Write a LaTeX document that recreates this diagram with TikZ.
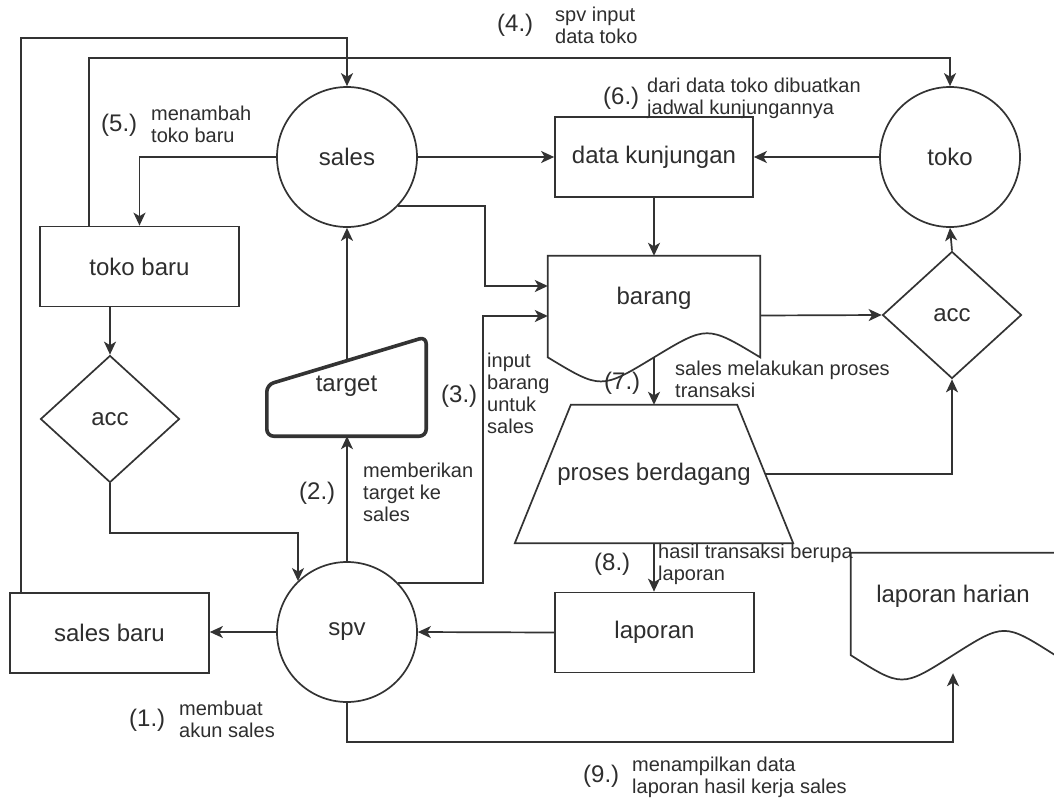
\documentclass[tikz,border=0pt]{standalone}
\usepackage{fontspec}
\setmainfont{Liberation Sans}
\usetikzlibrary{arrows.meta,calc,shapes.geometric}

\definecolor{ink}{HTML}{333333}
\definecolor{txt}{HTML}{2E2E2E}

% document symbol: flat top, wavy bottom (#2 = wave height)
\newcommand\docoutline[2]{%
  \draw[shapeline] (#1.north west) -- (#1.north east)
    -- ($(#1.south east)+(0,-0.5*#2)$)
    .. controls ($(#1.south east)!0.25!(#1.south west)+(0,-1.4*#2)$)
    .. ($(#1.south)+(0,-0.5*#2)$)
    .. controls ($(#1.south east)!0.75!(#1.south west)+(0,0.4*#2)$)
    .. ($(#1.south west)+(0,-0.5*#2)$) -- cycle;}

\begin{document}
\begin{tikzpicture}[x=1pt,y=-1pt,
  every node/.style={text=txt,font=\fontsize{24}{28}\selectfont},
  shapeline/.style={draw=ink,line width=1.7pt},
  procbox/.style={shapeline,fill=white,rectangle,inner sep=0pt,minimum width=199,minimum height=80},
  storecirc/.style={shapeline,fill=white,circle,inner sep=0pt,minimum size=140},
  decision/.style={shapeline,fill=white,diamond,inner sep=0pt,minimum width=139,minimum height=127},
  frame/.style={rectangle,inner sep=0pt},
  arr/.style={draw=ink,line width=1.7pt,-{Stealth[length=13pt,width=12pt,inset=3.5pt]}},
  num/.style={anchor=west,inner sep=0pt,font=\fontsize{24}{28}\selectfont},
  note/.style={anchor=west,inner sep=0pt,align=left,font=\fontsize{20}{22}\selectfont},
]
\useasboundingbox[fill=white] (0,0) rectangle (1054,800);

% ---- main symbols ----
\node[storecirc] (sales) at (347,157) {sales};
\node[storecirc] (toko) at (950,157) {toko};
\node[storecirc] (spv) at (347,632) {spv};

\node[procbox,minimum width=198] (datak) at (654,157) {data kunjungan};
\node[procbox] (tokobaru) at (139.5,266.5) {toko baru};
\node[procbox] (salesbaru) at (109.5,633) {sales baru};
\node[procbox] (laporan) at (654.5,632.5) {laporan};

\node[decision] (accL) at (110,419) {acc};
\node[decision] (accR) at (952,315) {acc};

% documents
\node[frame,minimum width=212,minimum height=119] (barang) at (654,315.5)
  {\raisebox{17.5pt}[\height][\depth]{barang}};
\docoutline{barang}{35.7}
\node[frame,minimum width=204,minimum height=120] (lapharian) at (953,613)
  {\raisebox{17pt}[\height][\depth]{laporan harian}};
\docoutline{lapharian}{36}

% manual input
\node[frame,minimum width=159,minimum height=99] (target) at (346.5,386.5) {target};
\coordinate (tgcorner) at ($(target.north west)+(0,48)$);
\draw[draw=ink,line width=3.6pt,rounded corners=7pt]
  (target.south) -- (target.south west) -- (tgcorner) -- (target.north east)
  -- (target.south east) -- cycle;
\coordinate (tgtop) at ($(tgcorner)!0.503!(target.north east)$);

% trapezoid process
\node[frame,minimum width=278,minimum height=138] (proses) at (654,474) {proses berdagang};
\draw[shapeline] (proses.south west) -- (proses.south east)
  -- ($(proses.north east)+(-56,0)$) -- ($(proses.north west)+(56,0)$) -- cycle;
\coordinate (prosesR) at ($(proses.east)+(-28,0)$);

% ---- junction points ----
\coordinate (j3) at (483,316);
\coordinate (j5) at (485,286);
\coordinate (j9) at (347,742);
\coordinate (j18) at (298,533);
\coordinate (j19) at (21,38);
\coordinate (j20) at (89,58);
\coordinate (wave) at ($(barang.south)+(0,-17.85)$);

% ---- connectors ----
\draw[arr] (spv.west) -- (spv.west -| salesbaru.east);
\draw[arr] (spv.north) -- (spv.north |- target.south);
\draw[arr] (tgtop) -- (tgtop |- sales.south);
\draw[arr] (spv.44) -| (j3) -- (j3 -| barang.west);
\draw[arr] (sales.-44) -| (j5) -- (j5 -| barang.west);
\draw[arr] (sales.east) -- (datak.west);
\draw[arr] (toko.west) -- (datak.east);
\draw[arr] (datak.south) -- (barang.north);
\draw[arr] (barang.east) -- (accR.west);
\draw[arr] (accR.north) -- (toko.south);
\draw[arr] (prosesR) -| (accR.south);
\draw[arr] (wave) -- (proses.north);
\draw[arr] (proses.south) -- (proses.south |- laporan.north);
\draw[arr] (laporan.west) -- (spv.east);
\draw[arr] (spv.south) -- (j9) -| (lapharian.south);
\draw[arr] (sales.west) -| (tokobaru.north);
\draw[arr] (accL.north |- tokobaru.south) -- (accL.north);
\draw[arr] (accL.south) |- (j18) -- (j18 |- spv.134);
\draw[arr] (salesbaru.north -| j19) -- (j19) -| (sales.north);
\draw[arr] (tokobaru.north -| j20) -- (j20) -| (toko.north);

% ---- step labels ----
\node[num] (n1) at (129,720) {(1.)};
\node[num] (n2) at (299,493) {(2.)};
\node[num] (n3) at (441,396) {(3.)};
\node[num] (n4) at (497,25) {(4.)};
\node[num] (n5) at (101,125) {(5.)};
\node[num] (n6) at (603,98) {(6.)};
\node[num] (n7) at (604,383) {(7.)};
\node[num] (n8) at (594,564) {(8.)};
\node[num] (n9) at (583,776) {(9.)};

\node[note] (t1) at (179,721.6) {\strut membuat\\\strut akun sales};
\node[note] (t2) at (363,495.1) {\strut memberikan\\\strut target ke\\\strut sales};
\node[note] (t3) at (487,396.1) {\strut input\\\strut barang\\\strut untuk\\\strut sales};
\node[note] (t4) at (555,28.4) {\strut spv input\\\strut data toko};
\node[note] (t5) at (151,126.6) {\strut menambah\\\strut toko baru};
\node[note] (t6) at (647,99.1) {\strut dari data toko dibuatkan\\\strut jadwal kunjungannya};
\node[note] (t7) at (675,381.6) {\strut sales melakukan proses\\\strut transaksi};
\node[note] (t8) at (658,565.1) {\strut hasil transaksi berupa\\\strut laporan};
\node[note] (t9) at (632,778.1) {\strut menampilkan data\\\strut laporan hasil kerja sales};
\end{tikzpicture}
\end{document}
